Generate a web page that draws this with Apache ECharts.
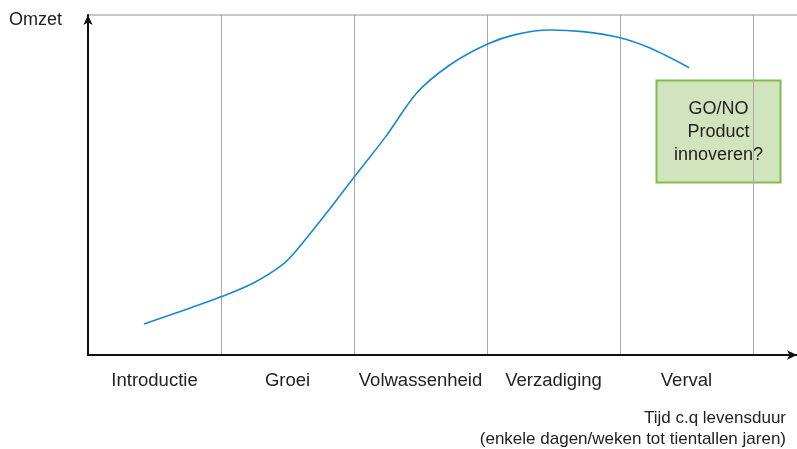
<!DOCTYPE html>
<html>
<head>
<meta charset="utf-8">
<script src="https://cdn.jsdelivr.net/npm/echarts@6/dist/echarts.min.js"></script>
<style>
html,body{margin:0;padding:0;background:#fff;}
#chart{width:797px;height:449px;}
</style>
</head>
<body>
<div id="chart"></div>
<script>
// Phases (category labels)
var phases = ['Introductie', 'Groei', 'Volwassenheid', 'Verzadiging', 'Verval'];
// Curve: time position (in phase units) and revenue (0-100)
var timePos = [0.42, 0.71, 1.00, 1.24, 1.46, 1.57, 1.82, 2.00, 2.24, 2.47, 2.72, 3.00, 3.22, 3.47, 3.72, 4.00, 4.23, 4.52];
var omzet   = [9.1, 13.0, 17.1, 21.1, 26.5, 30.9, 43.1, 52.3, 64.3, 77.0, 85.3, 91.4, 94.3, 95.6, 95.1, 93.3, 90.2, 84.5];
var yTitle = 'Omzet';
var xTitle = 'Tijd c.q levensduur\n(enkele dagen/weken tot tientallen jaren)';
var boxText = 'GO/NO\nProduct\ninnoveren?';

var FONT = "'Liberation Sans', Arial, sans-serif";
var TXT = '#222';

var curve = timePos.map(function (t, i) { return [t, omzet[i]]; });

var chart = echarts.init(document.getElementById('chart'), null, {renderer: 'canvas'});
chart.setOption({
  animation: false,
  backgroundColor: '#fff',
  textStyle: {fontFamily: FONT},
  title: [
    {text: yTitle, left: 9, top: 11, padding: 0,
     textStyle: {fontSize: 18, fontWeight: 'normal', color: TXT, fontFamily: FONT}}
  ],
  grid: [
    {left: 88, right: 0, top: 15, bottom: 94},
    {left: 88, width: 665, top: 15, bottom: 94}
  ],
  xAxis: [
    {type: 'value', gridIndex: 0, min: 0, max: 709 / 133, interval: 1,
     axisLine: {show: true, symbol: ['none', 'arrow'], symbolSize: [7, 10], lineStyle: {color: '#111', width: 2}},
     axisTick: {show: false}, axisLabel: {show: false},
     splitLine: {show: true, lineStyle: {color: '#a9a9a9', width: 1}}},
    {type: 'category', gridIndex: 1, data: phases, boundaryGap: true,
     axisLine: {show: false}, axisTick: {show: false}, splitLine: {show: false},
     axisLabel: {margin: 16, fontSize: 18.5, color: TXT, fontFamily: FONT, interval: 0}}
  ],
  yAxis: [
    {type: 'value', gridIndex: 0, min: 0, max: 100, interval: 100,
     axisLine: {show: true, symbol: ['none', 'arrow'], symbolSize: [7, 10], lineStyle: {color: '#111', width: 2}},
     axisTick: {show: false}, axisLabel: {show: false},
     splitLine: {show: true, lineStyle: {color: '#c8c8c8', width: 2}}},
    {type: 'value', gridIndex: 1, show: false, min: 0, max: 100}
  ],
  series: [
    {type: 'line', xAxisIndex: 0, yAxisIndex: 0, data: curve,
     smooth: 0.3, showSymbol: false, symbol: 'none',
     lineStyle: {color: '#1789d3', width: 1.6}, z: 5}
  ],
  graphic: [
    {type: 'text', x: 786, y: 429, z: 10,
     style: {text: xTitle, fill: TXT, font: '17px ' + FONT, textAlign: 'right', textVerticalAlign: 'middle', lineHeight: 21}},
    {type: 'group', z: 10, children: [
      {type: 'rect', shape: {x: 656.5, y: 80.5, width: 124, height: 102},
       style: {fill: '#d1e4bd', stroke: '#7fbd4d', lineWidth: 2}},
      {type: 'text', x: 718.5, y: 132,
       style: {text: boxText, fill: TXT, font: '18px ' + FONT, textAlign: 'center', textVerticalAlign: 'middle', lineHeight: 23}}
    ]}
  ]
});
</script>
</body>
</html>
